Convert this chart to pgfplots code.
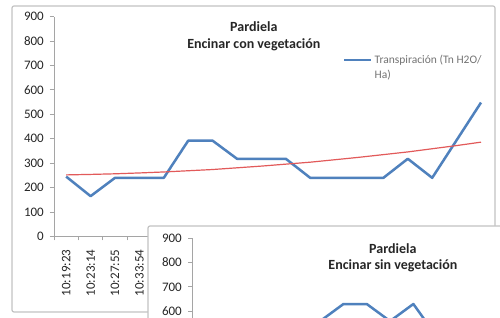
\documentclass[border=0pt]{standalone}
\usepackage{pgfplots}
\pgfplotsset{compat=1.18}
\usepackage{fontspec}
\setmainfont{Carlito}
\definecolor{xlblue}{RGB}{79,129,189}
\definecolor{xlred}{RGB}{226,90,90}
\definecolor{xlaxis}{RGB}{165,165,165}
\definecolor{xlframe}{RGB}{195,195,195}
\pgfplotsset{
  xlstyle/.style={
    scale only axis,
    axis x line*=bottom, axis y line*=left,
    axis line style={xlaxis, line width=0.8pt},
    ymin=0, ymax=900, ytick={0,100,...,900},
    tick align=outside, major tick length=4pt, minor tick length=4pt,
    every tick/.style={xlaxis, line width=0.8pt},
    tick label style={font=\fontsize{13}{15}\selectfont, text=black!85},
    /pgf/number format/assume math mode=true,
    yticklabel style={inner sep=0pt, xshift=-6pt},
  }
}
\pgfplotstableread{
i v
0 245
1 165
2 240
3 240
4 240
5 392
6 392
7 318
8 318
9 318
10 240
11 240
12 240
13 240
14 318
15 240
16 394
17 548
}\conveg
\pgfplotstableread{
i t
0 252
1 254
2 256.5
3 260
4 264
5 269
6 274
7 281
8 288
9 296
10 304
11 314
12 324
13 335
14 346
15 359
16 372
17 386
}\contrend
\pgfplotstableread{
i v
5 560
6 630
7 630
8 560
9 630
10 497
}\sinveg
\begin{document}
\begin{tikzpicture}[x=1pt,y=1pt]
\useasboundingbox (0,0) rectangle (500,318);
\clip (0,0) rectangle (500,318);
\draw[xlframe, line width=1.2pt, fill=white, rounded corners=2pt] (12,312) rectangle (495,6);
\begin{axis}[xlstyle,
  at={(54pt,81.5pt)}, anchor=south west,
  width=439.2pt, height=220pt,
  xmin=-0.5, xmax=17.5,
  xtick={0,1,2,3},
  xticklabels={10:19:23,10:23:14,10:27:55,10:33:54},
  x tick label style={rotate=90, anchor=east, inner sep=0pt, xshift=-9pt},
  every major x tick/.append style={draw=none},
  minor xtick={-0.5,0.5,...,17.5},
  title={Pardiela\\Encinar con vegetación},
  title style={at={(0.455,0.882)}, anchor=center, align=center,
    font=\bfseries\fontsize{14}{16.5}\selectfont, text=black!85},
  legend style={at={(0.658,0.845)}, anchor=north west, draw=none, fill=none,
    inner sep=0pt, font=\fontsize{11.5}{15}\selectfont, text=black!55,
    cells={anchor=base west}},
  legend image code/.code={\draw[#1] (0pt,3.5pt) -- (27pt,3.5pt);},
]
\addplot[xlblue, line width=2.5pt, line join=round] table[x=i,y=v] {\conveg};
\addlegendentry{\begin{tabular}[t]{@{}l@{}}Transpiración (Tn H2O/\\Ha)\end{tabular}}
\addplot[xlred, line width=1.2pt, forget plot] table[x=i,y=t] {\contrend};
\end{axis}
\draw[xlframe, line width=1.2pt, fill=white, rounded corners=2pt] (148,92) rectangle (640,-120);
\begin{axis}[xlstyle,
  at={(192pt,-140pt)}, anchor=south west,
  width=466pt, height=220pt,
  xmin=-0.5, xmax=19.5,
  xtick=\empty,
  title={Pardiela\\Encinar sin vegetación},
  title style={at={(0.431,0.882)}, anchor=center, align=center,
    font=\bfseries\fontsize{14}{16.5}\selectfont, text=black!85},
]
\addplot[xlblue, line width=2.5pt, line join=round] table[x=i,y=v] {\sinveg};
\end{axis}
\end{tikzpicture}
\end{document}
